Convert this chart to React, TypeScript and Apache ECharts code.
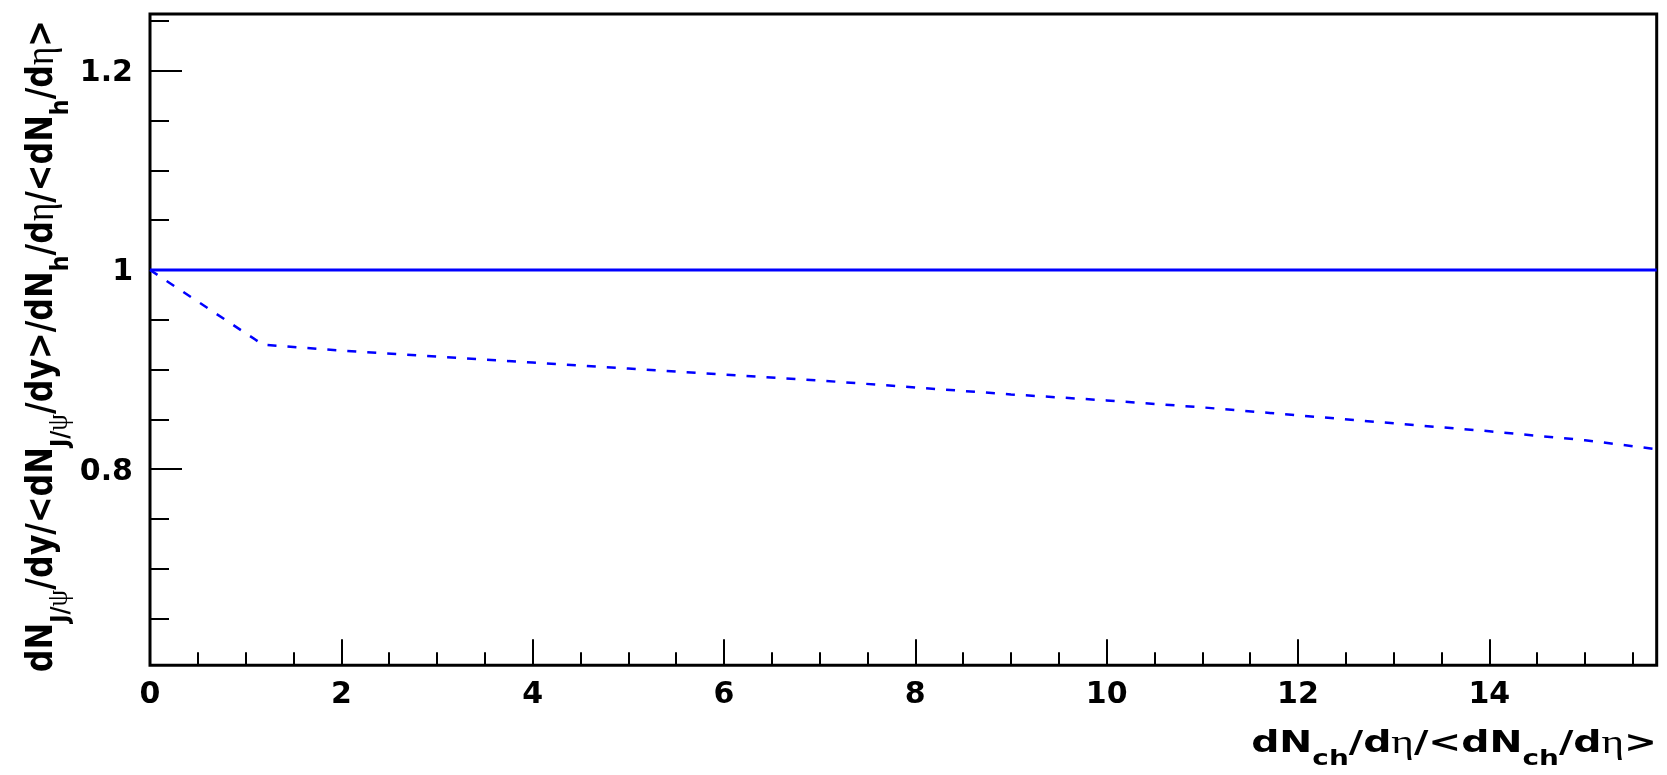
import React, { useEffect, useRef } from "react";
import * as echarts from "echarts";

const xRange = [0, 15.75];
const yRange = [0.603, 1.257];

const xMajorTicks = [0, 2, 4, 6, 8, 10, 12, 14];
const xMinorTicks = [0.5, 1, 1.5, 2.5, 3, 3.5, 4.5, 5, 5.5, 6.5, 7, 7.5, 8.5, 9, 9.5, 10.5, 11, 11.5, 12.5, 13, 13.5, 14.5, 15, 15.5];
const yMajorTicks = [0.8, 1, 1.2];
const yMinorTicks = [0.65, 0.7, 0.75, 0.85, 0.9, 0.95, 1.05, 1.1, 1.15, 1.25];

const referenceX = [0, 15.75];
const referenceY = [1, 1];

const ratioX = [0, 1.18, 2, 3, 4, 5, 6, 7, 8, 9, 10, 11, 12, 13, 14, 15, 15.75];
const ratioY = [1.0, 0.925, 0.919, 0.913, 0.907, 0.901, 0.895, 0.889, 0.882, 0.875, 0.869, 0.862, 0.854, 0.846, 0.838, 0.829, 0.82];

const xTitle = "{m|dN}{s|ch}{m|/d}{g|η}{m|/<dN}{s|ch}{m|/d}{g|η}{m|>}";
const yTitle = "{m|dN}{s|J/}{gs|ψ}{m|/dy/<dN}{s|J/}{gs|ψ}{m|/dy>/dN}{s|h}{m|/d}{g|η}{m|/<dN}{s|h}{m|/d}{g|η}{m|>}";

export default function App() {
  const ref = useRef<HTMLDivElement>(null);
  useEffect(() => {
    const chart = echarts.init(ref.current!, null, { renderer: "svg" });
    const tickLabel = {
      fontFamily: "DejaVu Sans",
      fontWeight: "bold",
      fontSize: 30,
      color: "#000",
    };
    const tickLine = { color: "#000", width: 2 };
    const xRich = {
      m: { fontFamily: "DejaVu Sans", fontWeight: "bold", fontSize: 31, lineHeight: 56 },
      s: { fontFamily: "DejaVu Sans", fontWeight: "bold", fontSize: 22, lineHeight: 20, verticalAlign: "bottom" },
      g: { fontFamily: "Liberation Serif", fontWeight: "normal", fontSize: 34, lineHeight: 56 },
    };
    const yRich = {
      m: { fontFamily: "DejaVu Sans", fontWeight: "bold", fontSize: 30, lineHeight: 54 },
      s: { fontFamily: "DejaVu Sans", fontWeight: "bold", fontSize: 21, lineHeight: 20, verticalAlign: "bottom" },
      g: { fontFamily: "Liberation Serif", fontWeight: "normal", fontSize: 33, lineHeight: 54 },
      gs: { fontFamily: "Liberation Serif", fontWeight: "normal", fontSize: 25, lineHeight: 20, verticalAlign: "bottom" },
    };
    chart.setOption({
      animation: false,
      grid: {
        left: 150,
        top: 14,
        right: 10.3,
        bottom: 109.7,
        show: true,
        borderColor: "#000",
        borderWidth: 3,
        backgroundColor: "transparent",
      },
      xAxis: [
        {
          type: "value",
          min: xRange[0],
          max: xRange[1],
          position: "bottom",
          axisLine: { show: false },
          axisTick: { show: true, inside: true, length: 26, lineStyle: tickLine, customValues: xMajorTicks },
          axisLabel: { ...tickLabel, margin: 12, customValues: xMajorTicks },
          splitLine: { show: false },
        },
        {
          type: "value",
          min: xRange[0],
          max: xRange[1],
          position: "bottom",
          offset: 0,
          axisLine: { show: false },
          axisTick: { show: true, inside: true, length: 13, lineStyle: tickLine, customValues: xMinorTicks },
          axisLabel: { show: false },
          splitLine: { show: false },
        },
      ],
      yAxis: [
        {
          type: "value",
          min: yRange[0],
          max: yRange[1],
          position: "left",
          axisLine: { show: false },
          axisTick: { show: true, inside: true, length: 32, lineStyle: tickLine, customValues: yMajorTicks },
          axisLabel: { ...tickLabel, margin: 17, customValues: yMajorTicks },
          splitLine: { show: false },
        },
        {
          type: "value",
          min: yRange[0],
          max: yRange[1],
          position: "left",
          offset: 0,
          axisLine: { show: false },
          axisTick: { show: true, inside: true, length: 19, lineStyle: tickLine, customValues: yMinorTicks },
          axisLabel: { show: false },
          splitLine: { show: false },
        },
      ],
      series: [
        {
          type: "line",
          xAxisIndex: 0,
          yAxisIndex: 0,
          data: referenceX.map((x, i) => [x, referenceY[i]]),
          showSymbol: false,
          symbol: "none",
          lineStyle: { color: "#0000ff", width: 3, type: "solid" },
          z: 3,
        },
        {
          type: "line",
          xAxisIndex: 0,
          yAxisIndex: 0,
          data: ratioX.map((x, i) => [x, ratioY[i]]),
          showSymbol: false,
          symbol: "none",
          lineStyle: { color: "#0000ff", width: 2.5, type: [9, 11] },
          z: 3,
        },
      ],
      graphic: [
        {
          type: "text",
          x: 1657,
          y: 741,
          scaleX: 1.27,
          style: { text: xTitle, rich: xRich, align: "right", verticalAlign: "middle", fill: "#000" },
        },
        {
          type: "text",
          x: 39,
          y: 20,
          rotation: Math.PI / 2,
          scaleX: 1.06,
          scaleY: 1.22,
          style: { text: yTitle, rich: yRich, align: "right", verticalAlign: "middle", fill: "#000" },
        },
      ],
    });
    return () => chart.dispose();
  }, []);
  return <div ref={ref} style={{ position: "fixed", left: 0, top: 0, width: 1667, height: 775 }} />;
}
